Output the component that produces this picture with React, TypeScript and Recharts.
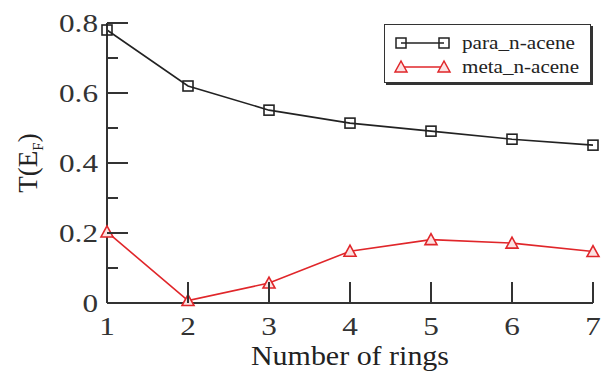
import React from 'react';
import { LineChart, Line, XAxis, YAxis, Legend } from 'recharts';

const rings = [1, 2, 3, 4, 5, 6, 7];
const paraValues = [0.78, 0.62, 0.551, 0.514, 0.491, 0.468, 0.451];
const metaValues = [0.203, 0.007, 0.057, 0.148, 0.181, 0.171, 0.147];
const seriesNames = ['para_n-acene', 'meta_n-acene'];
const seriesColors = ['#222222', '#e0262a'];
const xTicks = [1, 2, 3, 4, 5, 6, 7];
const yTicks = [0, 0.1, 0.2, 0.3, 0.4, 0.5, 0.6, 0.7, 0.8];
const xTitle = 'Number of rings';

const data = rings.map((r, i) => ({ rings: r, para: paraValues[i], meta: metaValues[i] }));

const FONT = '"Liberation Serif", "Times New Roman", serif';
const AX = '#333333';
const SX = 1.2;

const isMajor = (v: number) => Math.round(v * 10) % 2 === 0;
const fmtY = (v: number) => (v === 0 ? '0' : v.toFixed(1));

const LeftTick = (p: any) => {
  const v = p.payload.value;
  const major = isMajor(v);
  return (
    <g>
      <line x1={p.x} x2={p.x + (major ? 21 : 11)} y1={p.y} y2={p.y} stroke={AX} strokeWidth={2} />
      {major && (
        <text transform={`translate(${p.x - 9}, ${p.y}) scale(${SX}, 1)`} x={0} y={0} textAnchor="end" dominantBaseline="central" fontSize={26} fontFamily={FONT} fill="#333">
          {fmtY(v)}
        </text>
      )}
    </g>
  );
};

const RightTick = (p: any) => {
  const v = p.payload.value;
  const major = isMajor(v);
  return <line x1={p.x} x2={p.x - (major ? 21 : 11)} y1={p.y} y2={p.y} stroke={AX} strokeWidth={2} />;
};

const BottomTick = (p: any) => (
  <g>
    <line x1={p.x} x2={p.x} y1={p.y} y2={p.y - 21} stroke={AX} strokeWidth={2} />
    <text transform={`translate(${p.x}, ${p.y + 23}) scale(${SX}, 1)`} x={0} y={0} textAnchor="middle" dominantBaseline="central" fontSize={26} fontFamily={FONT} fill="#333">
      {p.payload.value}
    </text>
  </g>
);

const TopTick = (p: any) => <line x1={p.x} x2={p.x} y1={p.y} y2={p.y + 21} stroke={AX} strokeWidth={2} />;

const XTitle = (p: any) => {
  const vb = p.viewBox;
  return (
    <text transform={`translate(${vb.x + vb.width / 2 + 0}, ${vb.y + 62}) scale(1.11, 1)`} x={0} y={0} textAnchor="middle" fontSize={27} fontFamily={FONT} fill="#222">
      {xTitle}
    </text>
  );
};

const YTitle = (p: any) => {
  const vb = p.viewBox;
  const cx = vb.x + 37;
  const cy = vb.y + vb.height / 2;
  return (
    <text x={cx} y={cy} transform={`rotate(-90, ${cx}, ${cy})`} textAnchor="middle" fontSize={27} fontFamily={FONT} fill="#222">
      T(E
      <tspan fontSize={15} dy={6}>F</tspan>
      <tspan dy={-6}>)</tspan>
    </text>
  );
};

const Square = (p: any) => {
  if (p.cx == null) return <g key={p.index} />;
  return <rect key={p.index} x={p.cx - 5} y={p.cy - 5} width={10} height={10} fill="none" stroke={seriesColors[0]} strokeWidth={1.6} />;
};

const Triangle = (p: any) => {
  if (p.cx == null) return <g key={p.index} />;
  const { cx, cy } = p;
  return (
    <polygon key={p.index} points={`${cx},${cy - 6} ${cx - 6},${cy + 5} ${cx + 6},${cy + 5}`} fill="#fbe3e3" stroke={seriesColors[1]} strokeWidth={1.6} />
  );
};

const renderLegend = () => (
  <div style={{ width: 207, height: 59, border: '1px solid #333', boxShadow: '2px 2px 0 #333', background: '#fff', boxSizing: 'border-box' }}>
    <svg width={205} height={57} style={{ display: 'block' }}>
      {seriesNames.map((name, i) => {
        const y = 18 + i * 24;
        const c = seriesColors[i];
        const mk = (x: number) =>
          i === 0 ? (
            <rect x={x - 5} y={y - 5} width={10} height={10} fill="none" stroke={c} strokeWidth={1.5} />
          ) : (
            <polygon points={`${x},${y - 6} ${x - 6},${y + 5} ${x + 6},${y + 5}`} fill="#fbe3e3" stroke={c} strokeWidth={1.5} />
          );
        return (
          <g key={name}>
            <line x1={16} x2={59} y1={y} y2={y} stroke={c} strokeWidth={1.5} />
            {mk(16)}
            {mk(59)}
            <text x={77} y={y} dominantBaseline="central" fontSize={18} fontFamily={FONT} fill="#222" textLength={i === 0 ? 113 : 117} lengthAdjust="spacingAndGlyphs">
              {name}
            </text>
          </g>
        );
      })}
    </svg>
  </div>
);

export default function App() {
  return (
    <div style={{ position: 'absolute', left: 0, top: 0, width: 611, height: 373, background: '#fff' }}>
      <LineChart width={611} height={373} data={data} margin={{ top: 23, right: 18, bottom: 0, left: 0 }}>
        <XAxis
          dataKey="rings"
          type="number"
          domain={[1, 7]}
          ticks={xTicks}
          height={70}
          tickSize={0}
          tickMargin={0}
          tickLine={false}
          axisLine={{ stroke: AX, strokeWidth: 2 }}
          tick={BottomTick}
          label={{ content: XTitle }}
        />
        <XAxis
          xAxisId="top"
          orientation="top"
          dataKey="rings"
          type="number"
          domain={[1, 7]}
          ticks={xTicks}
          height={0}
          tickSize={0}
          tickMargin={0}
          tickLine={false}
          axisLine={{ stroke: AX, strokeWidth: 2 }}
          tick={TopTick}
        />
        <YAxis
          type="number"
          domain={[0, 0.8]}
          ticks={yTicks}
          width={107}
          tickSize={0}
          tickMargin={0}
          tickLine={false}
          axisLine={{ stroke: AX, strokeWidth: 2 }}
          tick={LeftTick}
          label={{ content: YTitle }}
        />
        <YAxis
          yAxisId="r"
          orientation="right"
          type="number"
          domain={[0, 0.8]}
          ticks={yTicks}
          width={0}
          tickSize={0}
          tickMargin={0}
          tickLine={false}
          axisLine={{ stroke: AX, strokeWidth: 2 }}
          tick={RightTick}
        />
        <Legend
          layout="horizontal"
          verticalAlign="middle"
          align="center"
          content={renderLegend}
          wrapperStyle={{ left: 384, top: 24, width: 209, height: 61 }}
        />
        <Line dataKey="para" type="linear" stroke={seriesColors[0]} strokeWidth={1.6} dot={Square} isAnimationActive={false} />
        <Line dataKey="meta" type="linear" stroke={seriesColors[1]} strokeWidth={1.6} dot={Triangle} isAnimationActive={false} />
      </LineChart>
    </div>
  );
}
